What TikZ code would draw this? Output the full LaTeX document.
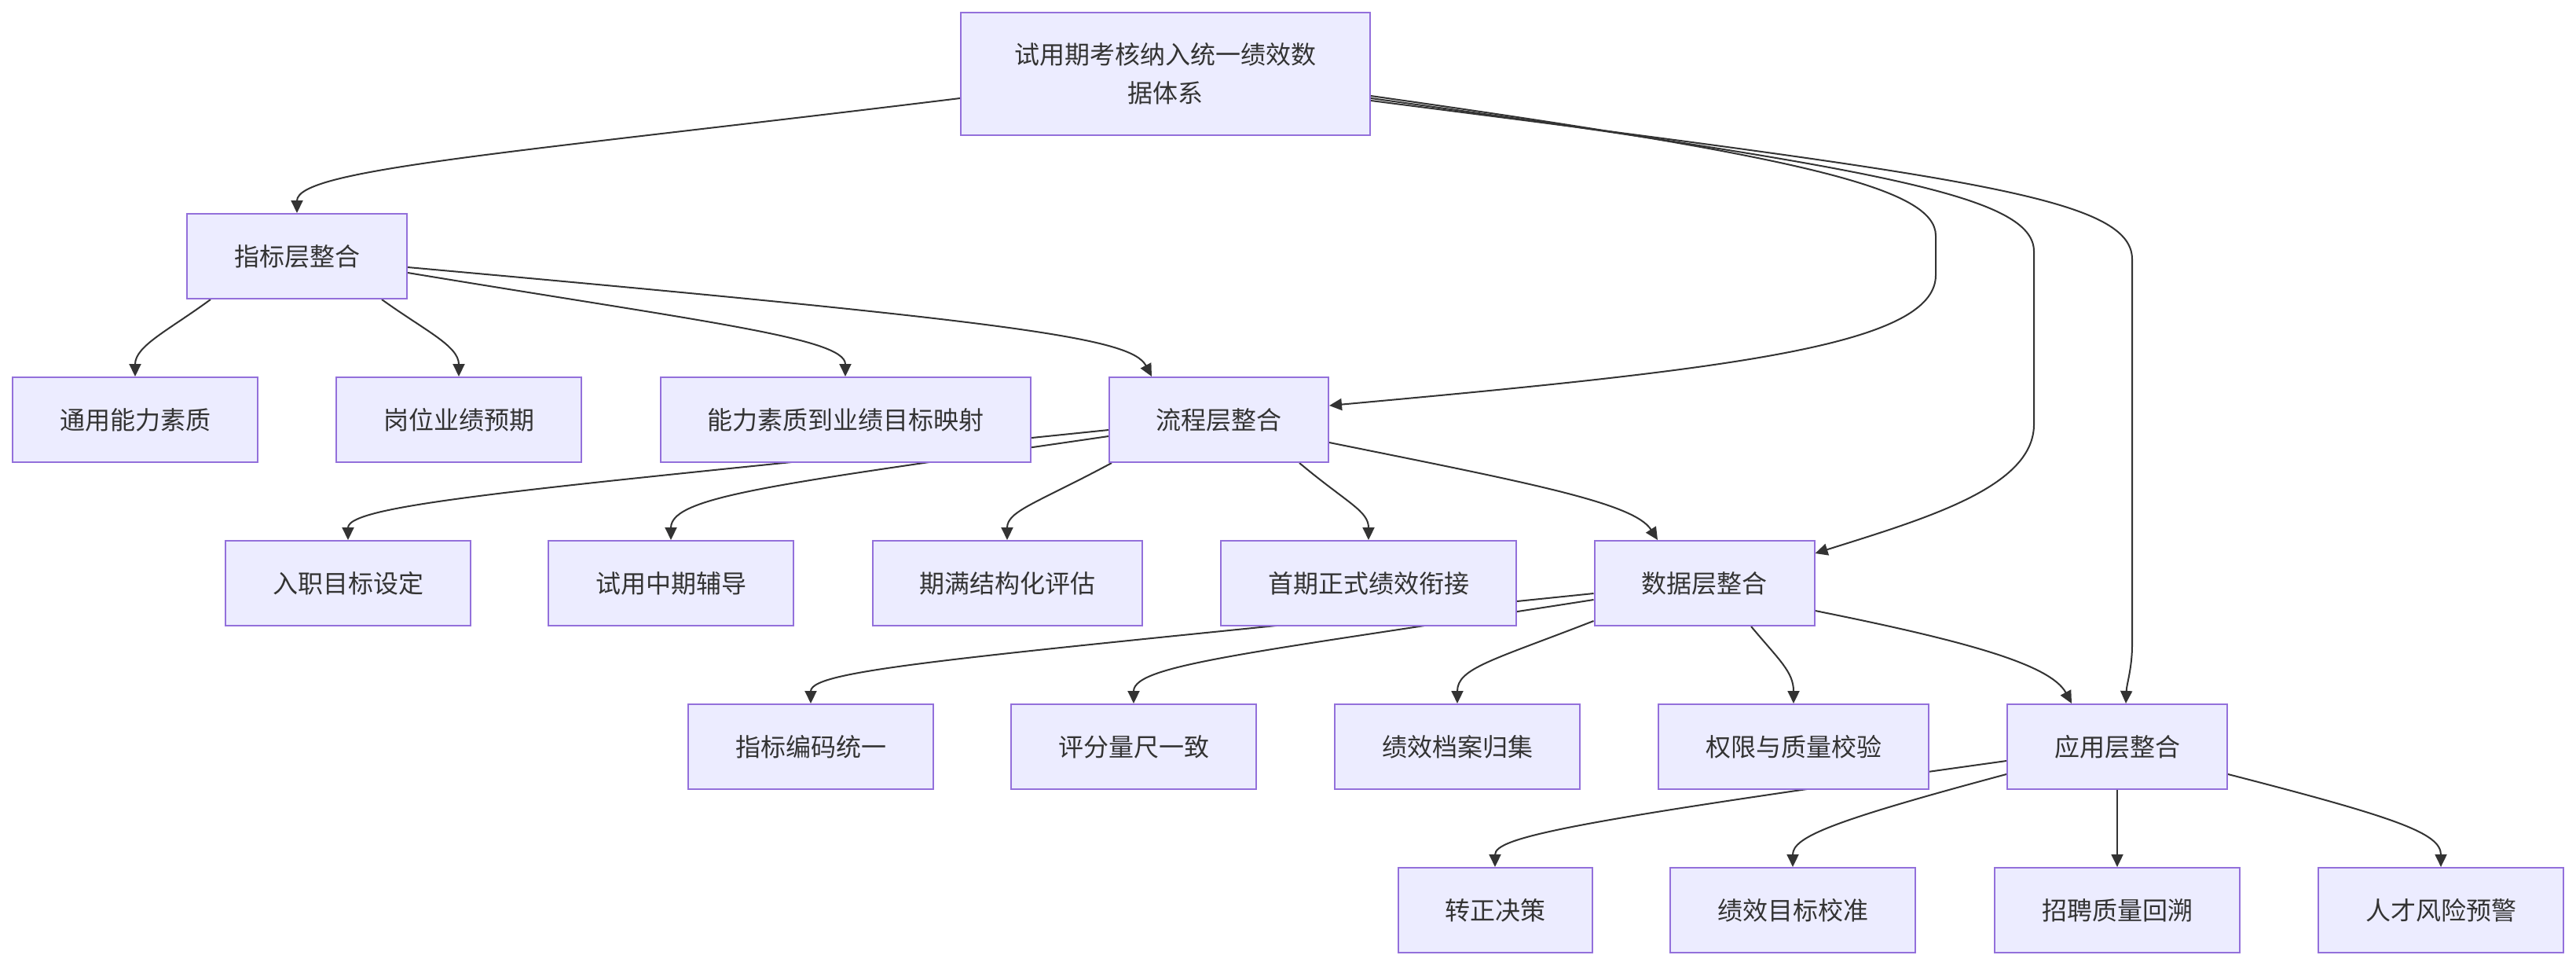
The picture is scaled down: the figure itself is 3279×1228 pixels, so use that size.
\documentclass[tikz,border=0pt]{standalone}
\usepackage{fontspec}
\newfontfamily\cjk{Noto Sans CJK SC}
\usetikzlibrary{arrows.meta}
\pgfdeclarelayer{bg}
\pgfsetlayers{bg,main}
\definecolor{boxfill}{HTML}{ECECFF}
\definecolor{boxline}{HTML}{9370DB}
\definecolor{ink}{HTML}{333333}
\tikzset{
  box/.style={draw=boxline, fill=boxfill, line width=1pt, text=ink,
    font=\cjk\fontsize{16pt}{24.5pt}\selectfont, minimum height=54pt,
    inner sep=0pt, align=center},
  w312/.style={minimum width=156pt},
  link/.style={draw=ink, line width=1pt, -{Triangle[length=8pt,width=7.5pt]}}
}
\begin{document}
\begin{tikzpicture}[x=0.5pt,y=-0.5pt]
\useasboundingbox (0,0) rectangle (3279,1228);
% nodes
\node[box, minimum width=260.5pt, minimum height=78pt] (root) at (1483.5,94) {试用期考核纳入统一绩效数\\据体系};
\node[box, minimum width=140pt] (idx) at (378,326) {指标层整合};
\node[box, w312] (n1) at (172,534) {通用能力素质};
\node[box, w312] (n2) at (584,534) {岗位业绩预期};
\node[box, minimum width=235.5pt] (n3) at (1076,534) {能力素质到业绩目标映射};
\node[box, minimum width=139.5pt] (proc) at (1551.5,534) {流程层整合};
\node[box, w312] (p1) at (443,742) {入职目标设定};
\node[box, w312] (p2) at (854,742) {试用中期辅导};
\node[box, minimum width=171.5pt] (p3) at (1282,742) {期满结构化评估};
\node[box, minimum width=188pt] (p4) at (1742,742) {首期正式绩效衔接};
\node[box, minimum width=140pt] (data) at (2169.5,742) {数据层整合};
\node[box, w312] (d1) at (1032,950) {指标编码统一};
\node[box, w312] (d2) at (1443,950) {评分量尺一致};
\node[box, w312] (d3) at (1855,950) {绩效档案归集};
\node[box, minimum width=172pt] (d4) at (2283,950) {权限与质量校验};
\node[box, minimum width=140pt] (app) at (2695,950) {应用层整合};
\node[box, minimum width=123.5pt] (a1) at (1903,1158) {转正决策};
\node[box, w312] (a2) at (2282,1158) {绩效目标校准};
\node[box, w312] (a3) at (2695,1158) {招聘质量回溯};
\node[box, w312] (a4) at (3107,1158) {人才风险预警};
% edges
\begin{pgfonlayer}{bg}
\draw[link] ([yshift=-15.5pt]root.west) .. controls (650,195) and (378,215) .. (idx.north);
\draw[link] ([yshift=-14pt]root.east) .. controls (2300,200) and (2464,240) .. (2464,300) -- (2464,350) .. controls (2464,440) and (2200,470) .. ([yshift=9pt]proc.east);
\draw[link] ([yshift=-15.5pt]root.east) .. controls (2400,215) and (2589,250) .. (2589,320) -- (2589,540) .. controls (2589,620) and (2450,660) .. ([yshift=19pt]data.east);
\draw[link] ([yshift=-17pt]root.east) .. controls (2500,225) and (2714,250) .. (2714,330) -- (2714,820) .. controls (2714,850) and (2707,870) .. ([xshift=5.5pt]app.north);
\draw[link] ([xshift=15.5pt]idx.south west) .. controls (215,420) and (172,440) .. (n1.north);
\draw[link] ([xshift=-16.5pt]idx.south east) .. controls (540,420) and (584,440) .. (n2.north);
\draw[link] ([yshift=-10.5pt]idx.east) .. controls (900,410) and (1076,430) .. (n3.north);
\draw[link] ([yshift=-7pt]idx.east) .. controls (1300,410) and (1440,430) .. ([xshift=-42.75pt]proc.north);
\draw[link] ([yshift=-6.5pt]proc.west) .. controls (700,620) and (443,640) .. (p1.north);
\draw[link] ([yshift=-10.5pt]proc.west) .. controls (1000,615) and (854,630) .. (p2.north);
\draw[link] ([xshift=2pt]proc.south west) .. controls (1320,640) and (1282,650) .. (p3.north);
\draw[link] ([xshift=-19pt]proc.south east) .. controls (1715,640) and (1742,650) .. (p4.north);
\draw[link] ([yshift=-14.5pt]proc.east) .. controls (1950,615) and (2080,640) .. ([xshift=-29.75pt]data.north);
\draw[link] ([yshift=-6.5pt]data.west) .. controls (1250,835) and (1032,850) .. (d1.north);
\draw[link] ([yshift=-10.5pt]data.west) .. controls (1600,830) and (1443,845) .. (d2.north);
\draw[link] ([yshift=3.5pt]data.south west) .. controls (1900,840) and (1855,850) .. (d3.north);
\draw[link] ([xshift=29.75pt]data.south) .. controls (2265,840) and (2283,855) .. (d4.north);
\draw[link] ([yshift=-17.5pt]data.east) .. controls (2500,815) and (2610,845) .. ([xshift=-29pt]app.north);
\draw[link] ([yshift=-9pt]app.west) .. controls (2000,1045) and (1903,1065) .. (a1.north);
\draw[link] ([yshift=-17.5pt]app.west) .. controls (2330,1045) and (2282,1065) .. (a2.north);
\draw[link] (app.south) -- (a3.north);
\draw[link] ([yshift=-17.5pt]app.east) .. controls (3050,1040) and (3107,1060) .. (a4.north);
\end{pgfonlayer}
\end{tikzpicture}
\end{document}
